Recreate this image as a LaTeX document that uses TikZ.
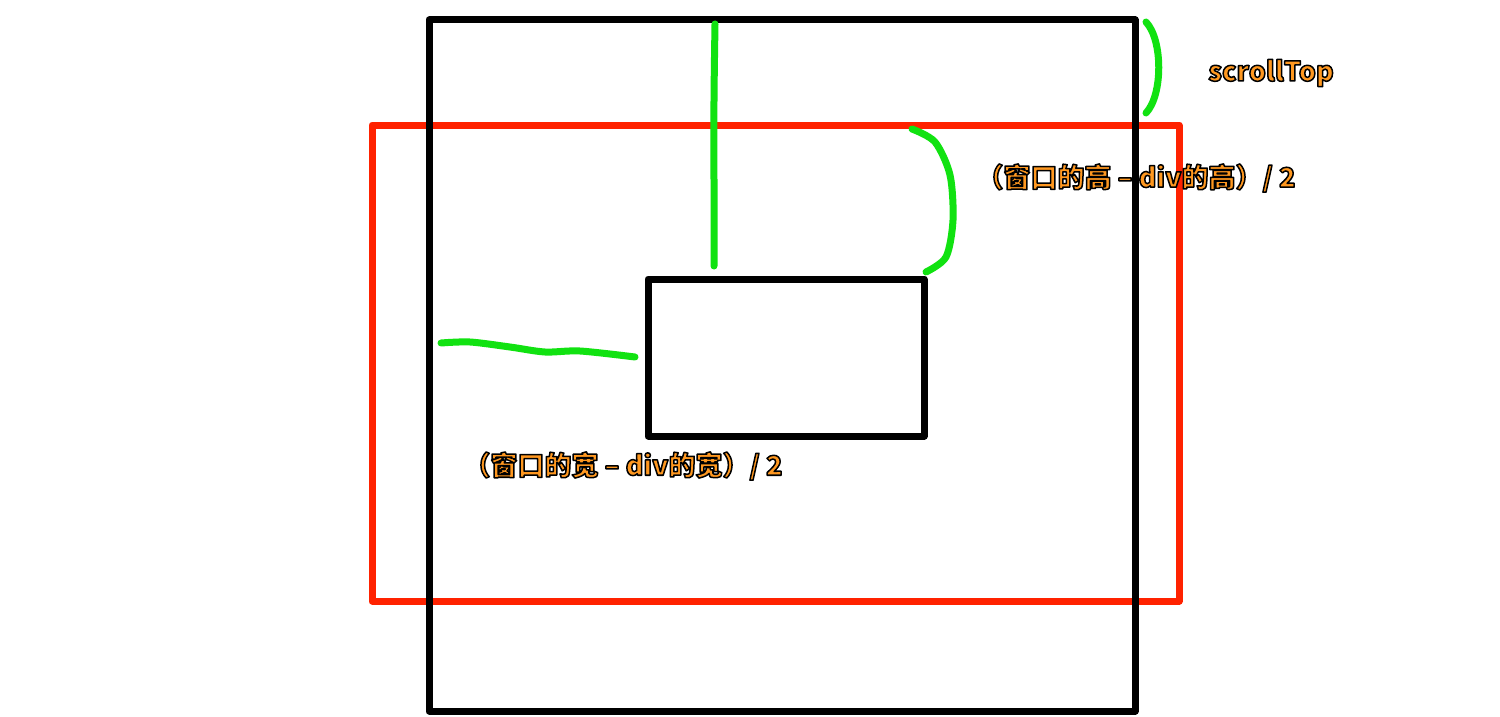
\documentclass[tikz,border=0pt]{standalone}
\usepackage{fontspec}
\newfontfamily\cjk{Noto Sans CJK SC}
\definecolor{gline}{RGB}{17,226,17}
\definecolor{rline}{RGB}{255,34,0}
\definecolor{otxt}{RGB}{255,152,32}
\newcommand\outl[1]{\special{pdf:literal direct 2 Tr 1.5 w 1 j 0 0 0 RG}#1\special{pdf:literal direct 0 Tr}}
\tikzset{
  frame/.style={line width=7pt,line join=round},
  greenline/.style={line width=7pt,gline,line cap=round,line join=round},
  lbl/.style={inner sep=0pt,text=otxt,font=\cjk\bfseries\fontsize{27}{30}\selectfont},
}
\begin{document}
\begin{tikzpicture}[x=1pt,y=-1pt]
\useasboundingbox[fill=white] (0,0) rectangle (1500,717);
% red window
\draw[frame,rline] (372,125) rectangle (1179,601);
% labels
\node[lbl] (tST) at (1271,73) {\outl{scrollTop}};
\node[lbl] (tH) at (1136,178) {\outl{（窗口的高 – div的高）/ 2}};
\node[lbl] (tW) at (623,466) {\outl{（窗口的宽 – div的宽）/ 2}};
% black page
\draw[frame,black] (429,20) rectangle (1135,711);
% div
\draw[frame,black] (648,279) rectangle (924,436);
% green markers
\draw[greenline] plot[smooth] coordinates {(715,24) (714,100) (714,190) (714,266)};
\draw[greenline] (1146,22) .. controls (1163,40) and (1163,95) .. (1146,113);
\draw[greenline] plot[smooth] coordinates {(912,129) (935,142) (950,175) (953,220) (946,257) (926,272)};
\draw[greenline] plot[smooth] coordinates {(441,343) (470,342) (510,347) (545,352) (580,351) (635,357)};
\end{tikzpicture}
\end{document}
